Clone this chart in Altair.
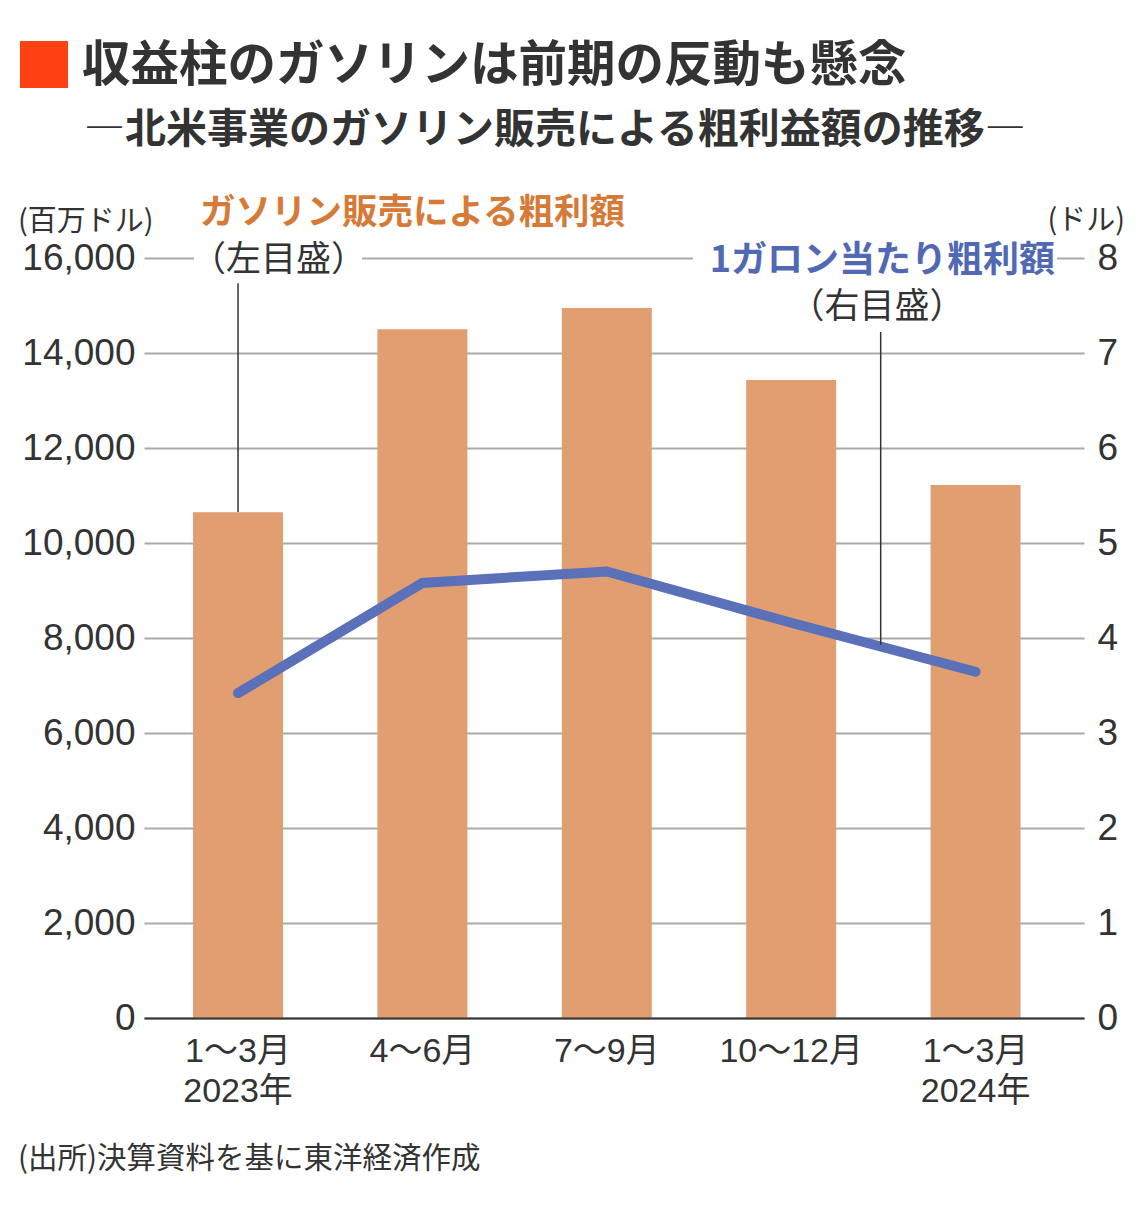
import altair as alt
import pandas as pd

# ---- data -------------------------------------------------------------
categories = ["1〜3月|2023年", "4〜6月", "7〜9月", "10〜12月", "1〜3月|2024年"]
gross_profit = [10650, 14500, 14950, 13430, 11220]      # 百万ドル (left axis)
per_gallon = [3.42, 4.58, 4.70, 4.16, 3.645]            # ドル (right axis)
left_ticks = [0, 2000, 4000, 6000, 8000, 10000, 12000, 14000, 16000]
right_ticks = [0, 1, 2, 3, 4, 5, 6, 7, 8]

title_text = "収益柱のガソリンは前期の反動も懸念"
subtitle_text = "―北米事業のガソリン販売による粗利益額の推移―"
left_unit = "(百万ドル)"
right_unit = "(ドル)"
bar_label = "ガソリン販売による粗利額"
bar_scale_label = "（左目盛）"
line_label = "1ガロン当たり粗利額"
line_scale_label = "（右目盛）"
source_text = "(出所)決算資料を基に東洋経済作成"

df = pd.DataFrame({"period": categories, "profit": gross_profit, "per_gallon": per_gallon})

W, H = 940, 760
FONT_NUM = "Liberation Sans, Noto Sans CJK JP"
FONT_JP = "Noto Sans CJK JP"
DARK = "#333333"
BAR_C = "#E09E71"
LINE_C = "#5A70B8"
ORANGE_T = "#D77A37"
BLUE_T = "#5169B5"

xscale = alt.Scale(domain=categories, paddingInner=0.512, paddingOuter=0.305, align=0.436)
x_enc = alt.X(
    "period:N", sort=categories, scale=xscale,
    axis=alt.Axis(title=None, labelAngle=0, ticks=False, domain=True, domainColor=DARK,
                  domainWidth=2, grid=False, labelFont=FONT_NUM, labelFontSize=34,
                  labelColor=DARK, labelPadding=16, labelLineHeight=40,
                  labelExpr="split(datum.label, '|')", zindex=1),
)

bars = alt.Chart(df).mark_bar(color=BAR_C).encode(
    x=x_enc,
    y=alt.Y("profit:Q", scale=alt.Scale(domain=[0, 16000], nice=False),
            axis=alt.Axis(title=None, orient="left", values=left_ticks, format=",d",
                          domain=False, ticks=False, tickSize=0, labelFont=FONT_NUM,
                          labelFontSize=37, labelColor=DARK, labelPadding=9,
                          grid=True, gridColor="#AAAAAA", gridWidth=2)),
)

line = alt.Chart(df).mark_line(color=LINE_C, strokeWidth=10, strokeCap="round").encode(
    x=alt.X("period:N", sort=categories, scale=xscale),
    y=alt.Y("per_gallon:Q", scale=alt.Scale(domain=[0, 8], nice=False),
            axis=alt.Axis(title=None, orient="right", values=right_ticks, format="d",
                          domain=False, ticks=False, tickSize=0, labelFont=FONT_NUM,
                          labelFontSize=37, labelColor=DARK, labelPadding=13, grid=False)),
)

# leader lines
lead_left = pd.DataFrame({"period": [categories[0]], "top": [15470], "bottom": [gross_profit[0]]})
rule_left = alt.Chart(lead_left).mark_rule(color=DARK, strokeWidth=1.5).encode(
    x=alt.X("period:N", sort=categories, scale=xscale),
    y=alt.Y("top:Q", scale=alt.Scale(domain=[0, 16000], nice=False), axis=None),
    y2="bottom:Q",
)
lead_right = pd.DataFrame({"period": [categories[3]], "top": [7.22], "bottom": [3.93]})
rule_right = alt.Chart(lead_right).mark_rule(color=DARK, strokeWidth=1.5, xOffset=89.5).encode(
    x=alt.X("period:N", sort=categories, scale=xscale),
    y=alt.Y("top:Q", scale=alt.Scale(domain=[0, 8], nice=False), axis=None),
    y2="bottom:Q",
)


def box(x1, x2, y1, y2, color="white"):
    return alt.Chart(pd.DataFrame({"k": [0]})).mark_rect(color=color).encode(
        x=alt.value(x1), x2=alt.value(x2), y=alt.value(y1), y2=alt.value(y2))


def txt(s, x, y, size, color=DARK, weight="normal", align="left", font=FONT_JP):
    return alt.Chart(pd.DataFrame({"t": [s]})).mark_text(
        align=align, baseline="middle", fontSize=size, fontWeight=weight,
        color=color, font=font).encode(x=alt.value(x), y=alt.value(y), text="t:N")


layers = [
    bars, line, rule_left, rule_right,
    box(50, 218, -18, 22),
    box(549, 913, -17, 25),
    box(-124, -76, -217, -170, color="#FF4013"),
    txt(title_text, -62, -192, 48.5, weight="bold"),
    txt(subtitle_text, -60, -127, 41, weight="bold"),
    txt(left_unit, -126, -36, 29),
    txt(right_unit, 981, -37, 29, align="right"),
    txt(bar_label, 56, -45, 35.5, color=ORANGE_T, weight="bold"),
    txt(bar_scale_label, 47, 2, 35),
    txt(line_label, 911, 3, 36, color=BLUE_T, weight="bold", align="right"),
    txt(line_scale_label, 733, 49, 35, align="center"),
    txt(source_text, -126, 901, 29.5),
]

chart = alt.layer(*layers).resolve_scale(y="independent").properties(
    width=W, height=H,
    autosize=alt.AutoSizeParams(type="none"),
    padding={"left": 136, "top": 250, "right": 48, "bottom": 185},
    background="white",
).configure_view(stroke=None)

chart.save("out.html", embed_options={"renderer": "svg", "actions": False})
